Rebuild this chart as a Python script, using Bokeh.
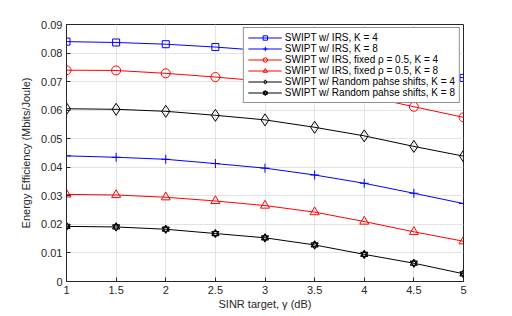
from bokeh.plotting import figure
from bokeh.models import FixedTicker, Legend, LegendItem
from bokeh.embed import file_html
from bokeh.resources import INLINE

sinr = [1, 1.5, 2, 2.5, 3, 3.5, 4, 4.5, 5]
irs_k4 = [0.0840, 0.0837, 0.0831, 0.0821, 0.0808, 0.0790, 0.0767, 0.0741, 0.0713]
irs_k8 = [0.0440, 0.0435, 0.0428, 0.0413, 0.0397, 0.0373, 0.0344, 0.0309, 0.0273]
fixed_k4 = [0.0740, 0.0739, 0.0729, 0.0716, 0.0701, 0.0680, 0.0650, 0.0612, 0.0575]
fixed_k8 = [0.0305, 0.0303, 0.0295, 0.0282, 0.0266, 0.0243, 0.0210, 0.0174, 0.0141]
rand_k4 = [0.0605, 0.0603, 0.0596, 0.0582, 0.0566, 0.0540, 0.0510, 0.0473, 0.0439]
rand_k8 = [0.0193, 0.0191, 0.0183, 0.0168, 0.0153, 0.0128, 0.0095, 0.0064, 0.0027]

x_ticks = [1, 1.5, 2, 2.5, 3, 3.5, 4, 4.5, 5]
x_tick_labels = ["1", "1.5", "2", "2.5", "3", "3.5", "4", "4.5", "5"]
y_ticks = [0, 0.01, 0.02, 0.03, 0.04, 0.05, 0.06, 0.07, 0.08, 0.09]
y_tick_labels = ["0", "0.01", "0.02", "0.03", "0.04", "0.05", "0.06", "0.07", "0.08", "0.09"]

labels = [
    "SWIPT w/ IRS, K = 4",
    "SWIPT w/ IRS, K = 8",
    "SWIPT w/ IRS, fixed \u03c1 = 0.5, K = 4",
    "SWIPT w/ IRS, fixed \u03c1 = 0.5, K = 8",
    "SWIPT w/ Random pahse shifts, K = 4",
    "SWIPT w/ Random pahse shifts, K = 8",
]

FONT = "Liberation Sans"
TXT = "#262626"

W, H = 504, 314
p = figure(width=W, height=H, x_range=(1, 5), y_range=(0, 0.09),
           output_backend="svg", toolbar_location=None,
           min_border_left=66, min_border_top=24, min_border_right=W - 463,
           min_border_bottom=H - 281)
p.background_fill_color = "white"
p.border_fill_color = "white"
p.outline_line_color = TXT
p.outline_line_width = 1

p.xaxis.ticker = FixedTicker(ticks=x_ticks)
p.yaxis.ticker = FixedTicker(ticks=y_ticks)
p.xaxis.major_label_overrides = {t: l for t, l in zip(x_ticks, x_tick_labels)}
p.yaxis.major_label_overrides = {t: l for t, l in zip(y_ticks, y_tick_labels)}
for ax in (p.xaxis, p.yaxis):
    ax.major_tick_in = 4
    ax.major_tick_out = 0
    ax.minor_tick_in = 0
    ax.minor_tick_out = 0
    ax.major_tick_line_color = TXT
    ax.axis_line_color = TXT
    ax.major_label_text_font = FONT
    ax.major_label_text_font_size = "11px"
    ax.major_label_text_color = TXT
    ax.axis_label_text_font = FONT
    ax.axis_label_text_font_size = "11px"
    ax.axis_label_text_color = TXT
    ax.axis_label_text_font_style = "normal"
    ax.major_label_standoff = 4
p.xaxis.axis_label = "SINR target, \u03b3 (dB)"
p.yaxis.axis_label = "Energy Efficiency (Mbits/Joule)"
p.xaxis.axis_label_standoff = 1
p.yaxis.axis_label_standoff = 6

p.grid.grid_line_color = "#e3e3e3"
p.grid.grid_line_width = 1

items = []

r1 = p.line(sinr, irs_k4, line_color="blue", line_width=1)
m1 = p.scatter(sinr, irs_k4, marker="square", size=7, line_color="blue", fill_color=None, line_width=1)
items.append(LegendItem(label=labels[0], renderers=[r1, m1]))

r2 = p.line(sinr, irs_k8, line_color="blue", line_width=1)
m2 = p.scatter(sinr, irs_k8, marker="cross", size=9, line_color="blue", line_width=1)
items.append(LegendItem(label=labels[1], renderers=[r2, m2]))

r3 = p.line(sinr, fixed_k4, line_color="red", line_width=1)
m3 = p.scatter(sinr, fixed_k4, marker="circle", size=9, line_color="red", fill_color=None, line_width=1)
items.append(LegendItem(label=labels[2], renderers=[r3, m3]))

r4 = p.line(sinr, fixed_k8, line_color="red", line_width=1)
m4 = p.scatter(sinr, fixed_k8, marker="triangle", size=9, line_color="red", fill_color=None, line_width=1)
items.append(LegendItem(label=labels[3], renderers=[r4, m4]))

r5 = p.line(sinr, rand_k4, line_color="black", line_width=1)
m5 = p.scatter(sinr, rand_k4, marker="diamond", size=12, line_color="black", fill_color=None, line_width=1)
items.append(LegendItem(label=labels[4], renderers=[r5, m5]))

r6 = p.line(sinr, rand_k8, line_color="black", line_width=1)
m6a = p.scatter(sinr, rand_k8, marker="triangle", size=7, line_color="black", fill_color=None, line_width=1.2)
m6b = p.scatter(sinr, rand_k8, marker="inverted_triangle", size=7, line_color="black", fill_color=None, line_width=1.2)
items.append(LegendItem(label=labels[5], renderers=[r6, m6a, m6b]))

legend = Legend(items=items, location="top_right")
legend.margin = 3
legend.padding = 4
legend.spacing = 0
legend.glyph_width = 34
legend.glyph_height = 11
legend.label_height = 11
legend.label_standoff = 3
legend.label_text_font = FONT
legend.label_text_font_size = "10px"
legend.label_text_color = "black"
legend.label_text_line_height = 1.0
legend.border_line_color = TXT
legend.border_line_width = 1
legend.background_fill_color = "white"
legend.background_fill_alpha = 1
p.add_layout(legend)

open("out.html", "w").write(file_html(p, INLINE))
